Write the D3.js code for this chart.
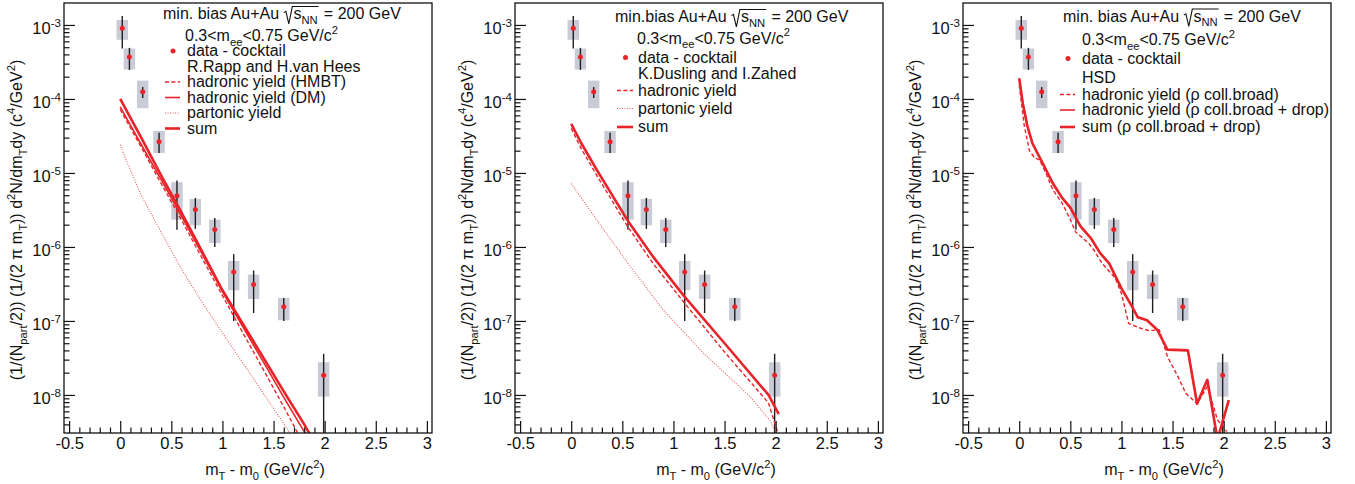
<!DOCTYPE html>
<html>
<head>
<meta charset="utf-8">
<script src="https://cdn.jsdelivr.net/npm/d3@7"></script>
<style>
  html, body { margin: 0; padding: 0; background: #fff; }
  svg { display: block; }
  text { font-family: "Liberation Sans", Arial, Helvetica, sans-serif; fill: #111; white-space: pre; }
</style>
</head>
<body>
<svg id="chart" width="1355" height="484"></svg>
<script>
// ---- measured excess yield (data - cocktail), 0.3 < m_ee < 0.75 GeV/c^2 ----
const mtBins    = [0.02, 0.09, 0.22, 0.38, 0.555, 0.735, 0.925, 1.11, 1.305, 1.60, 1.99];
const yieldVals = [9.0e-4, 3.7e-4, 1.25e-4, 2.65e-5, 4.9e-6, 3.2e-6, 1.72e-6, 4.6e-7, 3.1e-7, 1.55e-7, 1.85e-8];
const statLow   = [4.8e-4, 2.47e-4, 1.03e-4, 1.86e-5, 1.71e-6, 1.75e-6, 1.0e-6, 1.0e-7, 1.28e-7, 1.0e-7, 1.0e-10];
const statHigh  = [1.32e-3, 4.9e-4, 1.45e-4, 3.5e-5, 7.9e-6, 4.6e-6, 2.47e-6, 8.0e-7, 4.8e-7, 2.05e-7, 3.6e-8];
const sysLow    = [6.3e-4, 2.5e-4, 7.5e-5, 1.86e-5, 2.34e-6, 1.96e-6, 1.13e-6, 2.6e-7, 1.98e-7, 1.02e-7, 9.5e-9];
const sysHigh   = [1.17e-3, 4.8e-4, 1.77e-4, 3.7e-5, 7.5e-6, 4.45e-6, 2.34e-6, 6.47e-7, 4.24e-7, 2.05e-7, 2.77e-8];

// ---- R.Rapp and H.van Hees ----
const rappX       = [0, 0.2, 0.4, 0.6, 0.8, 1.0, 1.2, 1.4, 1.6, 1.8, 1.9];
const rappSum     = [1.0e-4, 3.1e-5, 9.3e-6, 2.9e-6, 8.7e-7, 2.6e-7, 9.1e-8, 3.2e-8, 1.12e-8, 4.0e-9, 2.3e-9];
const rappDM      = [7.8e-5, 2.5e-5, 8.1e-6, 2.6e-6, 8.1e-7, 2.5e-7, 8.3e-8, 2.8e-8, 9.3e-9, 3.2e-9, 1.8e-9];
const rappHMBT    = [7.2e-5, 2.3e-5, 7.2e-6, 2.3e-6, 7.1e-7, 2.2e-7, 6.9e-8, 2.2e-8, 6.9e-9, 2.1e-9, 1.2e-9];
const rappPartX   = [0, 0.05, 0.1, 0.2, 0.4, 0.6, 0.8, 1.0, 1.2, 1.4, 1.6, 1.7];
const rappParton  = [2.4e-5, 1.58e-5, 1.1e-5, 5.2e-6, 1.58e-6, 5.0e-7, 1.8e-7, 6.9e-8, 2.7e-8, 1.05e-8, 4.1e-9, 2.5e-9];

// ---- K.Dusling and I.Zahed ----
const duslingX      = [0, 0.1, 0.25, 0.55, 0.8, 1.1, 1.5, 1.93, 2.03];
const duslingSum    = [4.6e-5, 2.5e-5, 1.1e-5, 2.3e-6, 7.4e-7, 2.2e-7, 5.0e-8, 1.0e-8, 5.5e-9];
const duslingHadron = [4.0e-5, 2.1e-5, 9.3e-6, 1.9e-6, 6.0e-7, 1.8e-7, 3.8e-8, 7.8e-9, 2.8e-9];
const duslingPartX  = [0, 0.25, 0.58, 0.9, 1.3, 1.75, 1.95, 2.01];
const duslingParton = [7.2e-6, 2.3e-6, 5.4e-7, 1.4e-7, 3.6e-8, 9.5e-9, 4.4e-9, 2.8e-9];

// ---- HSD ----
const hsdDropX  = [0, 0.035, 0.08, 0.13, 0.23, 0.33, 0.42, 0.5, 0.6, 0.7, 0.79, 0.88, 1.0, 1.1, 1.16, 1.25, 1.35, 1.45, 1.65, 1.74, 1.84, 1.94, 2.05];
const hsdDrop   = [1.9e-4, 8.7e-5, 4.3e-5, 2.5e-5, 1.35e-5, 7.2e-6, 4.6e-6, 3.4e-6, 1.9e-6, 1.32e-6, 8.3e-7, 6.0e-7, 2.75e-7, 1.6e-7, 1.12e-7, 1.02e-7, 7.6e-8, 4.1e-8, 4.0e-8, 7.6e-9, 1.6e-8, 2.5e-9, 8.5e-9];
const hsdBroadX = [0, 0.05, 0.1, 0.15, 0.2, 0.26, 0.33, 0.42, 0.5, 0.55, 0.68, 0.73, 0.81, 0.94, 1.0, 1.07, 1.17, 1.27, 1.37, 1.45, 1.55, 1.63, 1.74, 1.84, 1.94, 2.03];
const hsdBroad  = [1.55e-4, 4.3e-5, 2.0e-5, 1.6e-5, 1.5e-5, 1.0e-5, 5.9e-6, 3.9e-6, 2.35e-6, 1.6e-6, 1.12e-6, 9.1e-7, 6.0e-7, 3.8e-7, 2.35e-7, 9.3e-8, 8.1e-8, 7.4e-8, 7.6e-8, 3.3e-8, 1.8e-8, 1.05e-8, 7.6e-9, 1.3e-8, 4.6e-9, 3.2e-9];

// ---- axis ticks and labels ----
const xMajorTicks = [-0.5, 0, 0.5, 1, 1.5, 2, 2.5, 3];
const xTickLabels = ["-0.5", "0", "0.5", "1", "1.5", "2", "2.5", "3"];
const yDecades    = [1e-8, 1e-7, 1e-6, 1e-5, 1e-4, 1e-3];
const yTickLabels = ["10^{-8}", "10^{-7}", "10^{-6}", "10^{-5}", "10^{-4}", "10^{-3}"];
const xTitle = "m_{T} - m_{0} (GeV/c^{2})";
const yTitle = "(1/(N_{part}/2)) (1/(2 \u03c0 m_{T})) d^{2}N/dm_{T}dy (c^{4}/GeV^{2})";

// ---- layout ----
const RED = "#e8242a";
const frameTop = 3, frameH = 430, frameW = 368;
const panelLefts = [64, 515, 963];
const xDomain = [-0.55, 3.05];
const yDomain = [3.06e-9, 1.98e-3];
const FS = 16;

const svg = d3.select("#chart");

function rich(sel, str, fs) {
  const parts = str.split(/(_\{[^}]*\}|\^\{[^}]*\})/).filter(s => s.length);
  let shift = 0;
  parts.forEach(p => {
    let t = p, target = 0, size = fs;
    if (p.startsWith("_{")) { t = p.slice(2, -1); target = 0.3 * fs; size = 0.7 * fs; }
    else if (p.startsWith("^{")) { t = p.slice(2, -1); target = -0.45 * fs; size = 0.7 * fs; }
    sel.append("tspan").attr("dy", target - shift).attr("font-size", size).text(t);
    shift = target;
  });
}

const styles = {
  thick:  { w: 2.6, dash: null, op: 1 },
  thin:   { w: 1.6, dash: null, op: 1 },
  dashed: { w: 1.4, dash: "4,2.4", op: 1 },
  dotted: { w: 1.1, dash: "1,1.5", op: 0.75 }
};

function sqrtRow(g, x, y, fs, prefix) {
  const t1 = g.append("text").attr("x", x).attr("y", y).attr("font-size", fs).text(prefix);
  const rx = x + t1.node().getComputedTextLength();
  const sx = rx + 0.62 * fs;
  const t2 = g.append("text").attr("x", sx).attr("y", y).attr("font-size", fs);
  rich(t2, "s_{NN}", fs);
  const ex = sx + t2.node().getComputedTextLength() + 1;
  g.append("path")
    .attr("d", `M${rx + 0.02 * fs},${y - 0.40 * fs} L${rx + 0.15 * fs},${y - 0.48 * fs} L${rx + 0.33 * fs},${y + 0.30 * fs} L${rx + 0.55 * fs},${y - 0.78 * fs} L${ex},${y - 0.78 * fs}`)
    .attr("fill", "none").attr("stroke", "#111").attr("stroke-width", 1.1);
  g.append("text").attr("x", ex + 0.05 * fs).attr("y", y).attr("font-size", fs).text(" = 200 GeV");
}

const panels = [
  {
    header: "min. bias Au+Au ",
    curves: [
      { x: rappPartX, y: rappParton, s: "dotted" },
      { x: rappX, y: rappHMBT, s: "dashed" },
      { x: rappX, y: rappDM, s: "thin" },
      { x: rappX, y: rappSum, s: "thick" }
    ],
    legend: {
      x0: 99, xt: 123, xs: [101, 116], xm: 109,
      rows: [
        { t: "sqrt", y: 19 },
        { t: "text", y: 41, label: "0.3<m_{ee}<0.75 GeV/c^{2}", dx: -2 },
        { t: "marker", y: 56, label: "data - cocktail" },
        { t: "text", y: 71.5, label: "R.Rapp and H.van Hees" },
        { t: "line", y: 87, s: "dashed", label: "hadronic yield (HMBT)" },
        { t: "line", y: 102.5, s: "thin", label: "hadronic yield (DM)" },
        { t: "line", y: 118, s: "dotted", label: "partonic yield" },
        { t: "line", y: 133.5, s: "thick", label: "sum" }
      ]
    }
  },
  {
    header: "min.bias Au+Au ",
    curves: [
      { x: duslingPartX, y: duslingParton, s: "dotted" },
      { x: duslingX, y: duslingHadron, s: "dashed" },
      { x: duslingX, y: duslingSum, s: "thick" }
    ],
    legend: {
      x0: 100, xt: 123, xs: [102, 118], xm: 110.5,
      rows: [
        { t: "sqrt", y: 22 },
        { t: "text", y: 43.5, label: "0.3<m_{ee}<0.75 GeV/c^{2}", dx: -1 },
        { t: "marker", y: 62.5, label: "data - cocktail" },
        { t: "text", y: 78.5, label: "K.Dusling and I.Zahed" },
        { t: "line", y: 95.5, s: "dashed", label: "hadronic yield" },
        { t: "line", y: 113.5, s: "dotted", label: "partonic yield" },
        { t: "line", y: 132, s: "thick", label: "sum" }
      ]
    }
  },
  {
    header: "min. bias Au+Au ",
    curves: [
      { x: hsdBroadX, y: hsdBroad, s: "dashed" },
      { x: hsdDropX, y: hsdDrop, s: "thin" },
      { x: hsdDropX, y: hsdDrop, s: "thick" }
    ],
    legend: {
      x0: 100, xt: 119, xs: [97, 112], xm: 105,
      rows: [
        { t: "sqrt", y: 21.5 },
        { t: "text", y: 45, label: "0.3<m_{ee}<0.75 GeV/c^{2}", dx: 0 },
        { t: "marker", y: 63.5, label: "data - cocktail" },
        { t: "text", y: 82.5, label: "HSD" },
        { t: "line", y: 99.5, s: "dashed", label: "hadronic yield (\u03c1 coll.broad)" },
        { t: "line", y: 115, s: "thin", label: "hadronic yield (\u03c1 coll.broad + drop)" },
        { t: "line", y: 132, s: "thick", label: "sum (\u03c1 coll.broad + drop)" }
      ]
    }
  }
];

panels.forEach((p, pi) => {
  const L = panelLefts[pi];
  const x = d3.scaleLinear().domain(xDomain).range([L, L + frameW]);
  const y = d3.scaleLog().domain(yDomain).range([frameTop + frameH, frameTop]);
  const g = svg.append("g");

  const clipId = "clip" + pi;
  svg.append("clipPath").attr("id", clipId)
    .append("rect").attr("x", L).attr("y", frameTop).attr("width", frameW).attr("height", frameH);
  const plot = g.append("g").attr("clip-path", `url(#${clipId})`);

  // systematic boxes
  plot.selectAll("rect.sys").data(mtBins).enter().append("rect")
    .attr("x", d => x(d - 0.056)).attr("width", d => x(d + 0.056) - x(d - 0.056))
    .attr("y", (d, i) => y(sysHigh[i])).attr("height", (d, i) => y(sysLow[i]) - y(sysHigh[i]))
    .attr("fill", "#c9ccd6");

  // statistical error bars
  plot.selectAll("line.stat").data(mtBins).enter().append("line")
    .attr("x1", d => x(d)).attr("x2", d => x(d))
    .attr("y1", (d, i) => y(statHigh[i])).attr("y2", (d, i) => y(statLow[i]))
    .attr("stroke", "#1e1e1e").attr("stroke-width", 1.4);

  // model curves
  const line = d3.line().x(d => x(d[0])).y(d => y(d[1]));
  p.curves.forEach(c => {
    const st = styles[c.s];
    plot.append("path").datum(c.x.map((v, i) => [v, c.y[i]]))
      .attr("d", line).attr("fill", "none").attr("stroke", RED)
      .attr("stroke-width", st.w).attr("stroke-dasharray", st.dash)
      .attr("stroke-opacity", st.op).attr("stroke-linejoin", "round");
  });

  // data markers
  plot.selectAll("circle.pt").data(mtBins).enter().append("circle")
    .attr("cx", d => x(d)).attr("cy", (d, i) => y(yieldVals[i])).attr("r", 2.5)
    .attr("fill", RED);

  // x axis (ticks inside the frame)
  const bottom = frameTop + frameH;
  const xMinor = d3.range(-5, 31).map(i => i / 10).filter(v => Math.abs(v * 2 - Math.round(v * 2)) > 1e-6);
  g.append("g").attr("transform", `translate(0,${bottom})`)
    .call(d3.axisBottom(x).tickValues(xMinor).tickSize(-5.5).tickFormat(""))
    .call(a => a.select(".domain").remove());
  const xa = g.append("g").attr("transform", `translate(0,${bottom})`)
    .call(d3.axisBottom(x).tickValues(xMajorTicks).tickSize(-12).tickPadding(4.5)
      .tickFormat((d, i) => xTickLabels[i]));
  xa.select(".domain").remove();
  xa.selectAll("text").attr("font-size", 16.5).attr("font-family", null).attr("fill", "#111");

  // y axis (log, ticks inside the frame)
  const yMinor = [];
  for (let k = -9; k <= -3; k++) for (let m = 2; m <= 9; m++) {
    const v = m * Math.pow(10, k);
    if (v >= yDomain[0] && v <= yDomain[1]) yMinor.push(v);
  }
  g.append("g").attr("transform", `translate(${L},0)`)
    .call(d3.axisLeft(y).tickValues(yMinor).tickSize(-5.5).tickFormat(""))
    .call(a => a.select(".domain").remove());
  const ya = g.append("g").attr("transform", `translate(${L},0)`)
    .call(d3.axisLeft(y).tickValues(yDecades).tickSize(-11).tickPadding(3).tickFormat(""));
  ya.select(".domain").remove();
  ya.selectAll(".tick text").each(function(d, i) {
    const t = d3.select(this).attr("dy", null).attr("y", 9).attr("font-size", 16.5)
      .attr("font-family", null).attr("fill", "#111");
    rich(t, yTickLabels[i], 16.5);
  });
  g.selectAll(".tick line").attr("stroke", "#111").attr("stroke-width", 1.2);

  // frame
  g.append("rect").attr("x", L).attr("y", frameTop).attr("width", frameW).attr("height", frameH)
    .attr("fill", "none").attr("stroke", "#111").attr("stroke-width", 1.3);

  // axis titles
  const xt = g.append("text").attr("x", L + 201).attr("y", 475).attr("font-size", FS)
    .attr("text-anchor", "middle");
  rich(xt, xTitle, FS);
  const yt = g.append("text").attr("transform", `translate(${L - 42},220) rotate(-90)`)
    .attr("font-size", FS).attr("text-anchor", "middle");
  rich(yt, yTitle, FS);

  // legend
  const lg = p.legend;
  lg.rows.forEach(r => {
    if (r.t === "sqrt") {
      sqrtRow(g, L + lg.x0, r.y, FS, p.header);
      return;
    }
    const tx = g.append("text").attr("x", L + lg.xt + (r.dx || 0)).attr("y", r.y).attr("font-size", FS);
    rich(tx, r.label, FS);
    if (r.t === "marker") {
      g.append("circle").attr("cx", L + lg.xm).attr("cy", r.y - 5).attr("r", 2.5).attr("fill", RED);
    } else if (r.t === "line") {
      const st = styles[r.s];
      g.append("line").attr("x1", L + lg.xs[0]).attr("x2", L + lg.xs[1])
        .attr("y1", r.y - 5).attr("y2", r.y - 5)
        .attr("stroke", RED).attr("stroke-width", st.w).attr("stroke-dasharray", st.dash)
        .attr("stroke-opacity", st.op);
    }
  });
});
</script>
</body>
</html>
